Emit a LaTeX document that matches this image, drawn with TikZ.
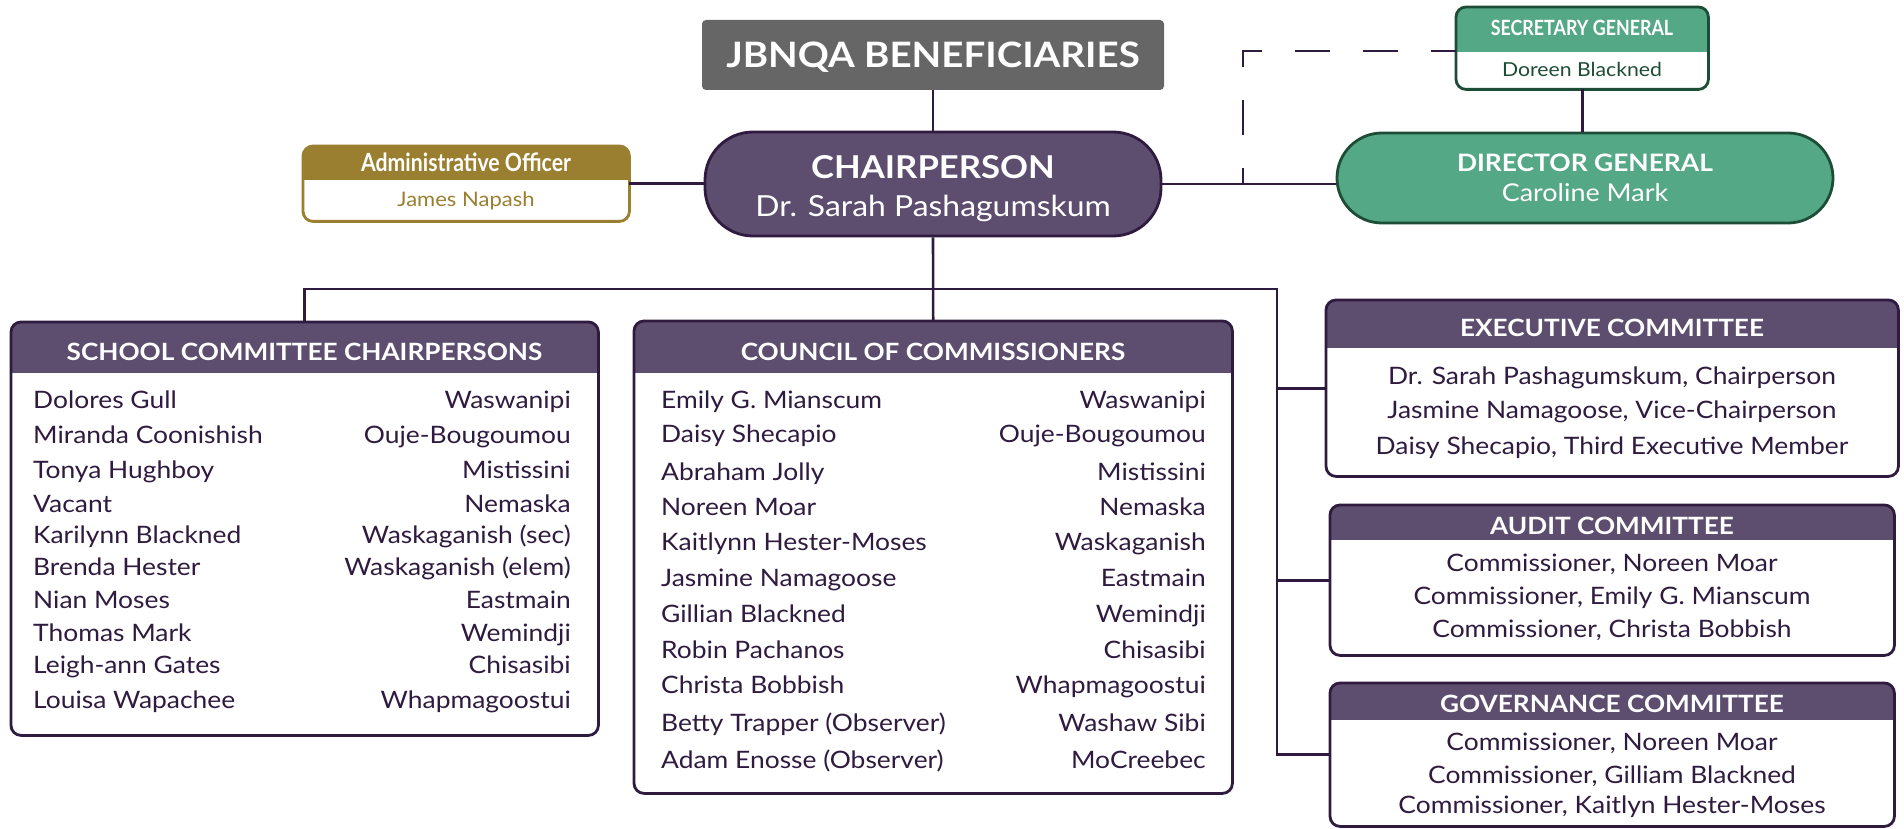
\documentclass[tikz,border=0pt]{standalone}
\usepackage{fontspec}
\setmainfont{Lato}[FakeStretch=1.1]
\newfontfamily\narrowfont[FakeStretch=0.85]{Lato}
\usetikzlibrary{calc}

\definecolor{ink}{HTML}{2F1B3F}
\definecolor{plum}{HTML}{5D4D6E}
\definecolor{slate}{HTML}{666666}
\definecolor{mint}{HTML}{55A886}
\definecolor{pine}{HTML}{1E4D37}
\definecolor{ochre}{HTML}{9A7F30}

\tikzset{
  wire/.style={draw=ink, line width=2.6pt},
  linkdash/.style={wire, dash pattern=on 35pt off 33pt, dash phase=19pt},
  card/.style={inner sep=0pt, anchor=north west, fill=white, rounded corners=10pt},
  captext/.style={inner sep=0pt, text depth=0pt},
  entry/.style={captext, text=ink, anchor=west, font=\fontsize{24}{28}\selectfont, text height=17.2pt},
  town/.style={entry, anchor=east},
  member/.style={entry, anchor=center},
  headtxt/.style={captext, text=white, font=\bfseries\fontsize{23.8}{28}\selectfont, text height=17pt},
}

% header band + border of a card
\newcommand{\band}[4]{%
  \begin{scope}
    \clip[rounded corners=10pt] (#1.north west) rectangle (#1.south east);
    \fill[#3] (#1.north west) rectangle ([yshift=-#2]#1.north east);
  \end{scope}
  \draw[#4, line width=2.8pt, rounded corners=10pt] (#1.north west) rectangle (#1.south east);
}

\begin{document}
\begin{tikzpicture}[x=1pt, y=-1pt]
  \useasboundingbox (0,0) rectangle (1904,829);

  % top of the chart
  \node[fill=slate, rounded corners=4pt, minimum width=462pt, minimum height=70pt, inner sep=0pt,
        text=white, font=\bfseries\fontsize{35}{40}\selectfont, text height=25pt, text depth=0pt]
        (jbnqa) at (933,55) {JBNQA BENEFICIARIES};

  \node[fill=plum, draw=ink, line width=2.8pt, rounded corners=48pt,
        minimum width=456pt, minimum height=104pt] (chair) at (933,184) {};
  \node[captext, text=white, font=\bfseries\fontsize{31.5}{36}\selectfont, text height=22.6pt] (chairT) at (933,167) {CHAIRPERSON};
  \node[captext, text=white, font=\fontsize{29}{34}\selectfont, text height=20.8pt] (chairN) at (933,206) {Dr. Sarah Pashagumskum};

  \node[fill=mint, draw=pine, line width=2.8pt, rounded corners=45pt,
        minimum width=496pt, minimum height=90pt] (dg) at (1585,178) {};
  \node[captext, text=white, font=\bfseries\fontsize{24}{29}\selectfont, text height=17.2pt] (dgT) at (1585,163) {DIRECTOR GENERAL};
  \node[captext, text=white, font=\fontsize{24.5}{29}\selectfont, text height=17.6pt] (dgN) at (1585,193) {Caroline Mark};

  \node[card, minimum width=252pt, minimum height=82pt] (sec) at (1456,7) {};
  \band{sec}{45pt}{mint}{pine}
  \node[captext, text=white, font=\narrowfont\bfseries\fontsize{21}{25}\selectfont, text height=15pt] (secT) at (1582,28.5) {SECRETARY GENERAL};
  \node[captext, text=pine, font=\fontsize{19.3}{23}\selectfont, text height=13.8pt] (secN) at (1582,70) {Doreen Blackned};

  \node[card, minimum width=326pt, minimum height=75pt] (admin) at (303,146) {};
  \band{admin}{34pt}{ochre}{ochre}
  \node[captext, text=white, font=\narrowfont\bfseries\fontsize{25}{29}\selectfont, text height=17.9pt] (adminT) at (466,162.5) {Administrative Officer};
  \node[captext, text=ochre, font=\fontsize{20}{24}\selectfont, text height=14.3pt] (adminN) at (466,199) {James Napash};

  % committees
  \node[card, minimum width=587pt, minimum height=413pt] (school) at (11,322) {};
  \band{school}{51pt}{plum}{ink}
  \node[headtxt] (schoolH) at (304.5,352) {SCHOOL COMMITTEE CHAIRPERSONS};
  \foreach \who/\where/\y [count=\i] in {Dolores Gull/Waswanipi/400, Miranda Coonishish/Ouje-Bougoumou/435,
      Tonya Hughboy/Mistissini/470, Vacant/Nemaska/504, Karilynn Blackned/Waskaganish (sec)/535,
      Brenda Hester/Waskaganish (elem)/567, Nian Moses/Eastmain/600, Thomas Mark/Wemindji/633,
      Leigh-ann Gates/Chisasibi/665, Louisa Wapachee/Whapmagoostui/700}{
    \node[entry] (sw\i) at (33,\y) {\who};
    \node[town] (st\i) at (571,\y) {\where};
  }

  \node[card, minimum width=598pt, minimum height=472pt] (council) at (634,321) {};
  \band{council}{52pt}{plum}{ink}
  \node[headtxt] (councilH) at (933,352) {COUNCIL OF COMMISSIONERS};
  \foreach \who/\where/\y [count=\i] in {Emily G. Mianscum/Waswanipi/400, Daisy Shecapio/Ouje-Bougoumou/434,
      Abraham Jolly/Mistissini/472, Noreen Moar/Nemaska/507, Kaitlynn Hester-Moses/Waskaganish/542,
      Jasmine Namagoose/Eastmain/578, Gillian Blackned/Wemindji/614, Robin Pachanos/Chisasibi/650,
      Christa Bobbish/Whapmagoostui/685, Betty Trapper (Observer)/Washaw Sibi/723,
      Adam Enosse (Observer)/MoCreebec/760}{
    \node[entry] (cw\i) at (661,\y) {\who};
    \node[town] (ct\i) at (1206,\y) {\where};
  }

  \node[card, minimum width=572pt, minimum height=176pt] (exec) at (1326,300) {};
  \band{exec}{48pt}{plum}{ink}
  \node[headtxt] (execH) at (1612,328) {EXECUTIVE COMMITTEE};
  \foreach \who/\y [count=\i] in {{Dr. Sarah Pashagumskum, Chairperson}/376,
      {Jasmine Namagoose, Vice-Chairperson}/410, {Daisy Shecapio, Third Executive Member}/446}{
    \node[member] (ex\i) at (1612,\y) {\who};
  }

  \node[card, minimum width=564pt, minimum height=150pt] (audit) at (1330,505) {};
  \band{audit}{35pt}{plum}{ink}
  \node[headtxt] (auditH) at (1612,526) {AUDIT COMMITTEE};
  \foreach \who/\y [count=\i] in {{Commissioner, Noreen Moar}/563,
      {Commissioner, Emily G. Mianscum}/596, {Commissioner, Christa Bobbish}/628.5}{
    \node[member] (au\i) at (1612,\y) {\who};
  }

  \node[card, minimum width=564pt, minimum height=143pt] (gov) at (1330,683) {};
  \band{gov}{37pt}{plum}{ink}
  \node[headtxt] (govH) at (1612,704) {GOVERNANCE COMMITTEE};
  \foreach \who/\y [count=\i] in {{Commissioner, Noreen Moar}/742,
      {Commissioner, Gilliam Blackned}/774.5, {Commissioner, Kaitlyn Hester-Moses}/805}{
    \node[member] (gv\i) at (1612,\y) {\who};
  }

  % connectors
  \coordinate (trunk) at (1277,289);
  \coordinate (dashfoot) at (1243,184);
  \draw[wire] (jbnqa) -- (chair);
  \draw[wire] (admin.east) -- (admin.east -| chair.west);
  \draw[wire] (chair.east) -- (chair.east -| dg.west);
  \draw[wire] (sec.south) -- (sec.south |- dg.north);
  \draw[linkdash] (dashfoot) |- ([yshift=-3pt]sec.west);
  \draw[wire] (chair.south) -- (council.north);
  \draw[wire] (school.north) |- (trunk) |- (gov.west);
  \draw[wire] (trunk |- exec.west) -- (exec.west);
  \draw[wire] (trunk |- audit.west) -- (audit.west);
\end{tikzpicture}
\end{document}
